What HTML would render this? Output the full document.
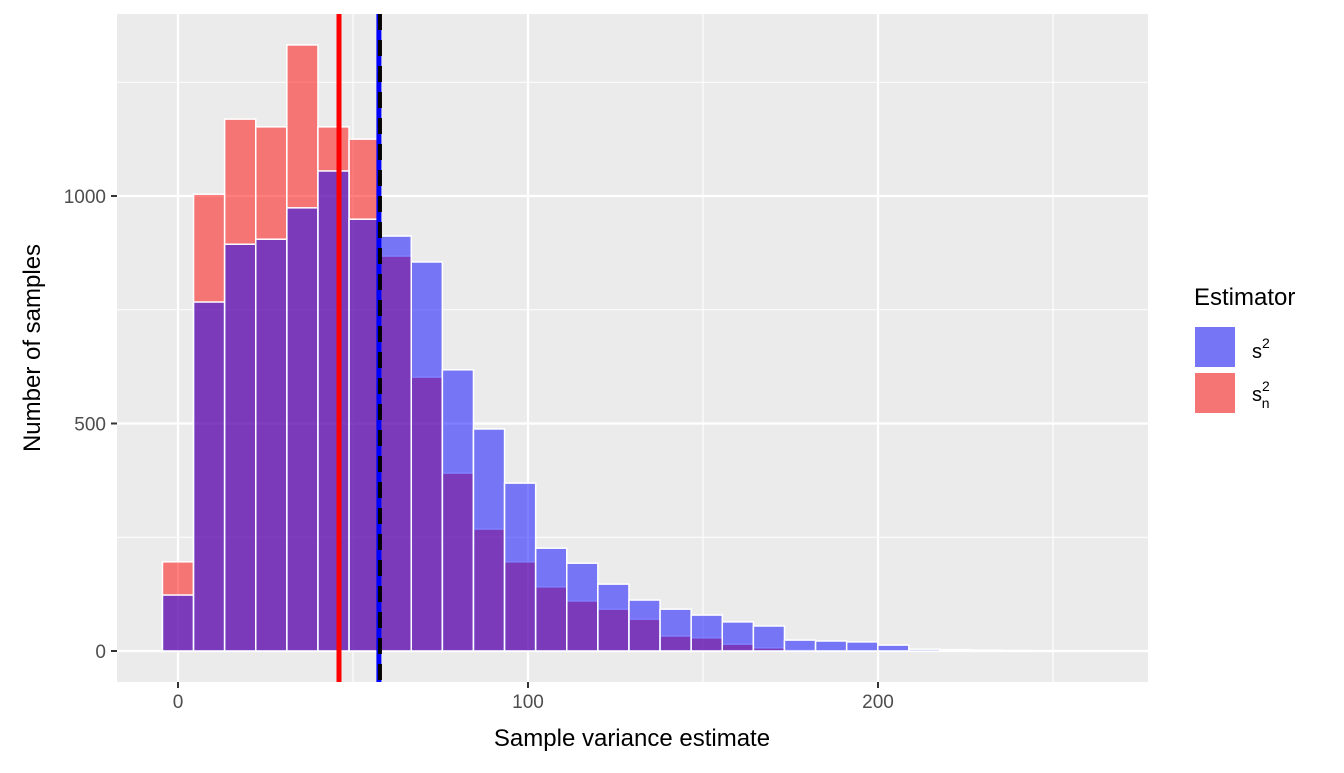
<!DOCTYPE html>
<html><head><meta charset="utf-8"><style>
html,body{margin:0;padding:0;background:#fff;}
svg text{font-family:"Liberation Sans",sans-serif;}
</style></head><body>
<svg id="chart" width="1344" height="768" xmlns="http://www.w3.org/2000/svg">
<rect x="117" y="14" width="1031" height="668" fill="#ebebeb"/>
<g id="grid"></g>
<g id="bars"></g>
<g id="lines"></g>
<g id="axes"></g>
<text x="632" y="746" font-size="24" text-anchor="middle" fill="#000">Sample variance estimate</text>
<text transform="translate(40,348) rotate(-90)" font-size="24" text-anchor="middle" fill="#000">Number of samples</text>
<g>
<text x="1194" y="305" font-size="24">Estimator</text>
<rect x="1193" y="325" width="44" height="44" fill="#fff"/>
<rect x="1195" y="327" width="40" height="40" fill="#7575f5"/>
<text x="1252" y="358" font-size="20">s<tspan font-size="14" dy="-10">2</tspan></text>
<rect x="1193" y="369" width="44" height="44" fill="#fff"/>
<rect x="1195" y="373" width="40" height="40" fill="#f57575"/>
<text x="1252" y="401" font-size="20">s<tspan font-size="14" dy="-10">2</tspan><tspan font-size="14" dx="-8" dy="17">n</tspan></text>
</g>
</svg>
<script>
const binWidth = 8.886;
const redCounts = [196,1004,1169,1152,1332,1152,1125,868,602,391,268,196,141,110,92,70,33,29,15,7,2,0,0,0,0,0,0,0];
const blueCounts = [123,767,894,905,974,1055,949,912,855,618,488,369,226,193,147,112,92,79,64,55,24,22,20,13,4,3,2,1];
const xTicks = [0,100,200];
const xMinor = [50,150,250];
const yTicks = [0,500,1000];
const yMinor = [250,750,1250];
const meanRed = 46;
const meanBlue = 57.4;
const trueVar = 57.7;

const X = v => 178 + v*3.5;
const Y = v => 651 - v*0.455;
const NS = "http://www.w3.org/2000/svg";
function mk(tag, attrs, parent){const e=document.createElementNS(NS,tag);for(const k in attrs)e.setAttribute(k,attrs[k]);parent.appendChild(e);return e;}
const grid=document.getElementById('grid'), bars=document.getElementById('bars'), lines=document.getElementById('lines'), axes=document.getElementById('axes');
xMinor.forEach(v=>{const l=mk('line',{x1:X(v),x2:X(v),y1:14,y2:682,stroke:'#fff','stroke-width':1.1},grid);

});
yMinor.forEach(v=>{const l=mk('line',{x1:117,x2:1148,y1:Y(v),y2:Y(v),stroke:'#fff','stroke-width':1.1},grid);

});
xTicks.forEach(v=>{const l=mk('line',{x1:X(v),x2:X(v),y1:14,y2:682,stroke:'#fff','stroke-width':2.2},grid);


const t=mk('line',{x1:X(v),x2:X(v),y1:682,y2:688,stroke:'#333','stroke-width':2},axes);


const tx=mk('text',{x:X(v),y:708,'font-size':19,'text-anchor':'middle',fill:'#4d4d4d'},axes);tx.textContent=v;

});
yTicks.forEach(v=>{const l=mk('line',{x1:117,x2:1148,y1:Y(v),y2:Y(v),stroke:'#fff','stroke-width':2.2},grid);


const t=mk('line',{x1:111,x2:117,y1:Y(v),y2:Y(v),stroke:'#333','stroke-width':2},axes);


const tx=mk('text',{x:106,y:Y(v)+7,'font-size':19,'text-anchor':'end',fill:'#4d4d4d'},axes);tx.textContent=v;

});
function drawSeries(arr,color,name){arr.forEach((c,i)=>{const x0=X(i*binWidth-binWidth/2),x1=X(i*binWidth+binWidth/2);
const r=mk('rect',{x:x0,y:Y(c),width:x1-x0,height:Y(0)-Y(c),fill:color,'fill-opacity':0.5,stroke:'#fff','stroke-width':1.5},bars);

});}
drawSeries(redCounts,'#ff0000','bar-sn2');
drawSeries(blueCounts,'#0000ff','bar-s2');
let l=mk('line',{x1:X(meanRed),x2:X(meanRed),y1:14,y2:682,stroke:'#ff0000','stroke-width':5},lines);


l=mk('line',{x1:X(meanBlue),x2:X(meanBlue),y1:14,y2:682,stroke:'#0000ff','stroke-width':5},lines);


l=mk('line',{x1:X(trueVar),x2:X(trueVar),y1:14,y2:682,stroke:'#000','stroke-width':4,'stroke-dasharray':'16,10'},lines);


</script>
</body></html>
